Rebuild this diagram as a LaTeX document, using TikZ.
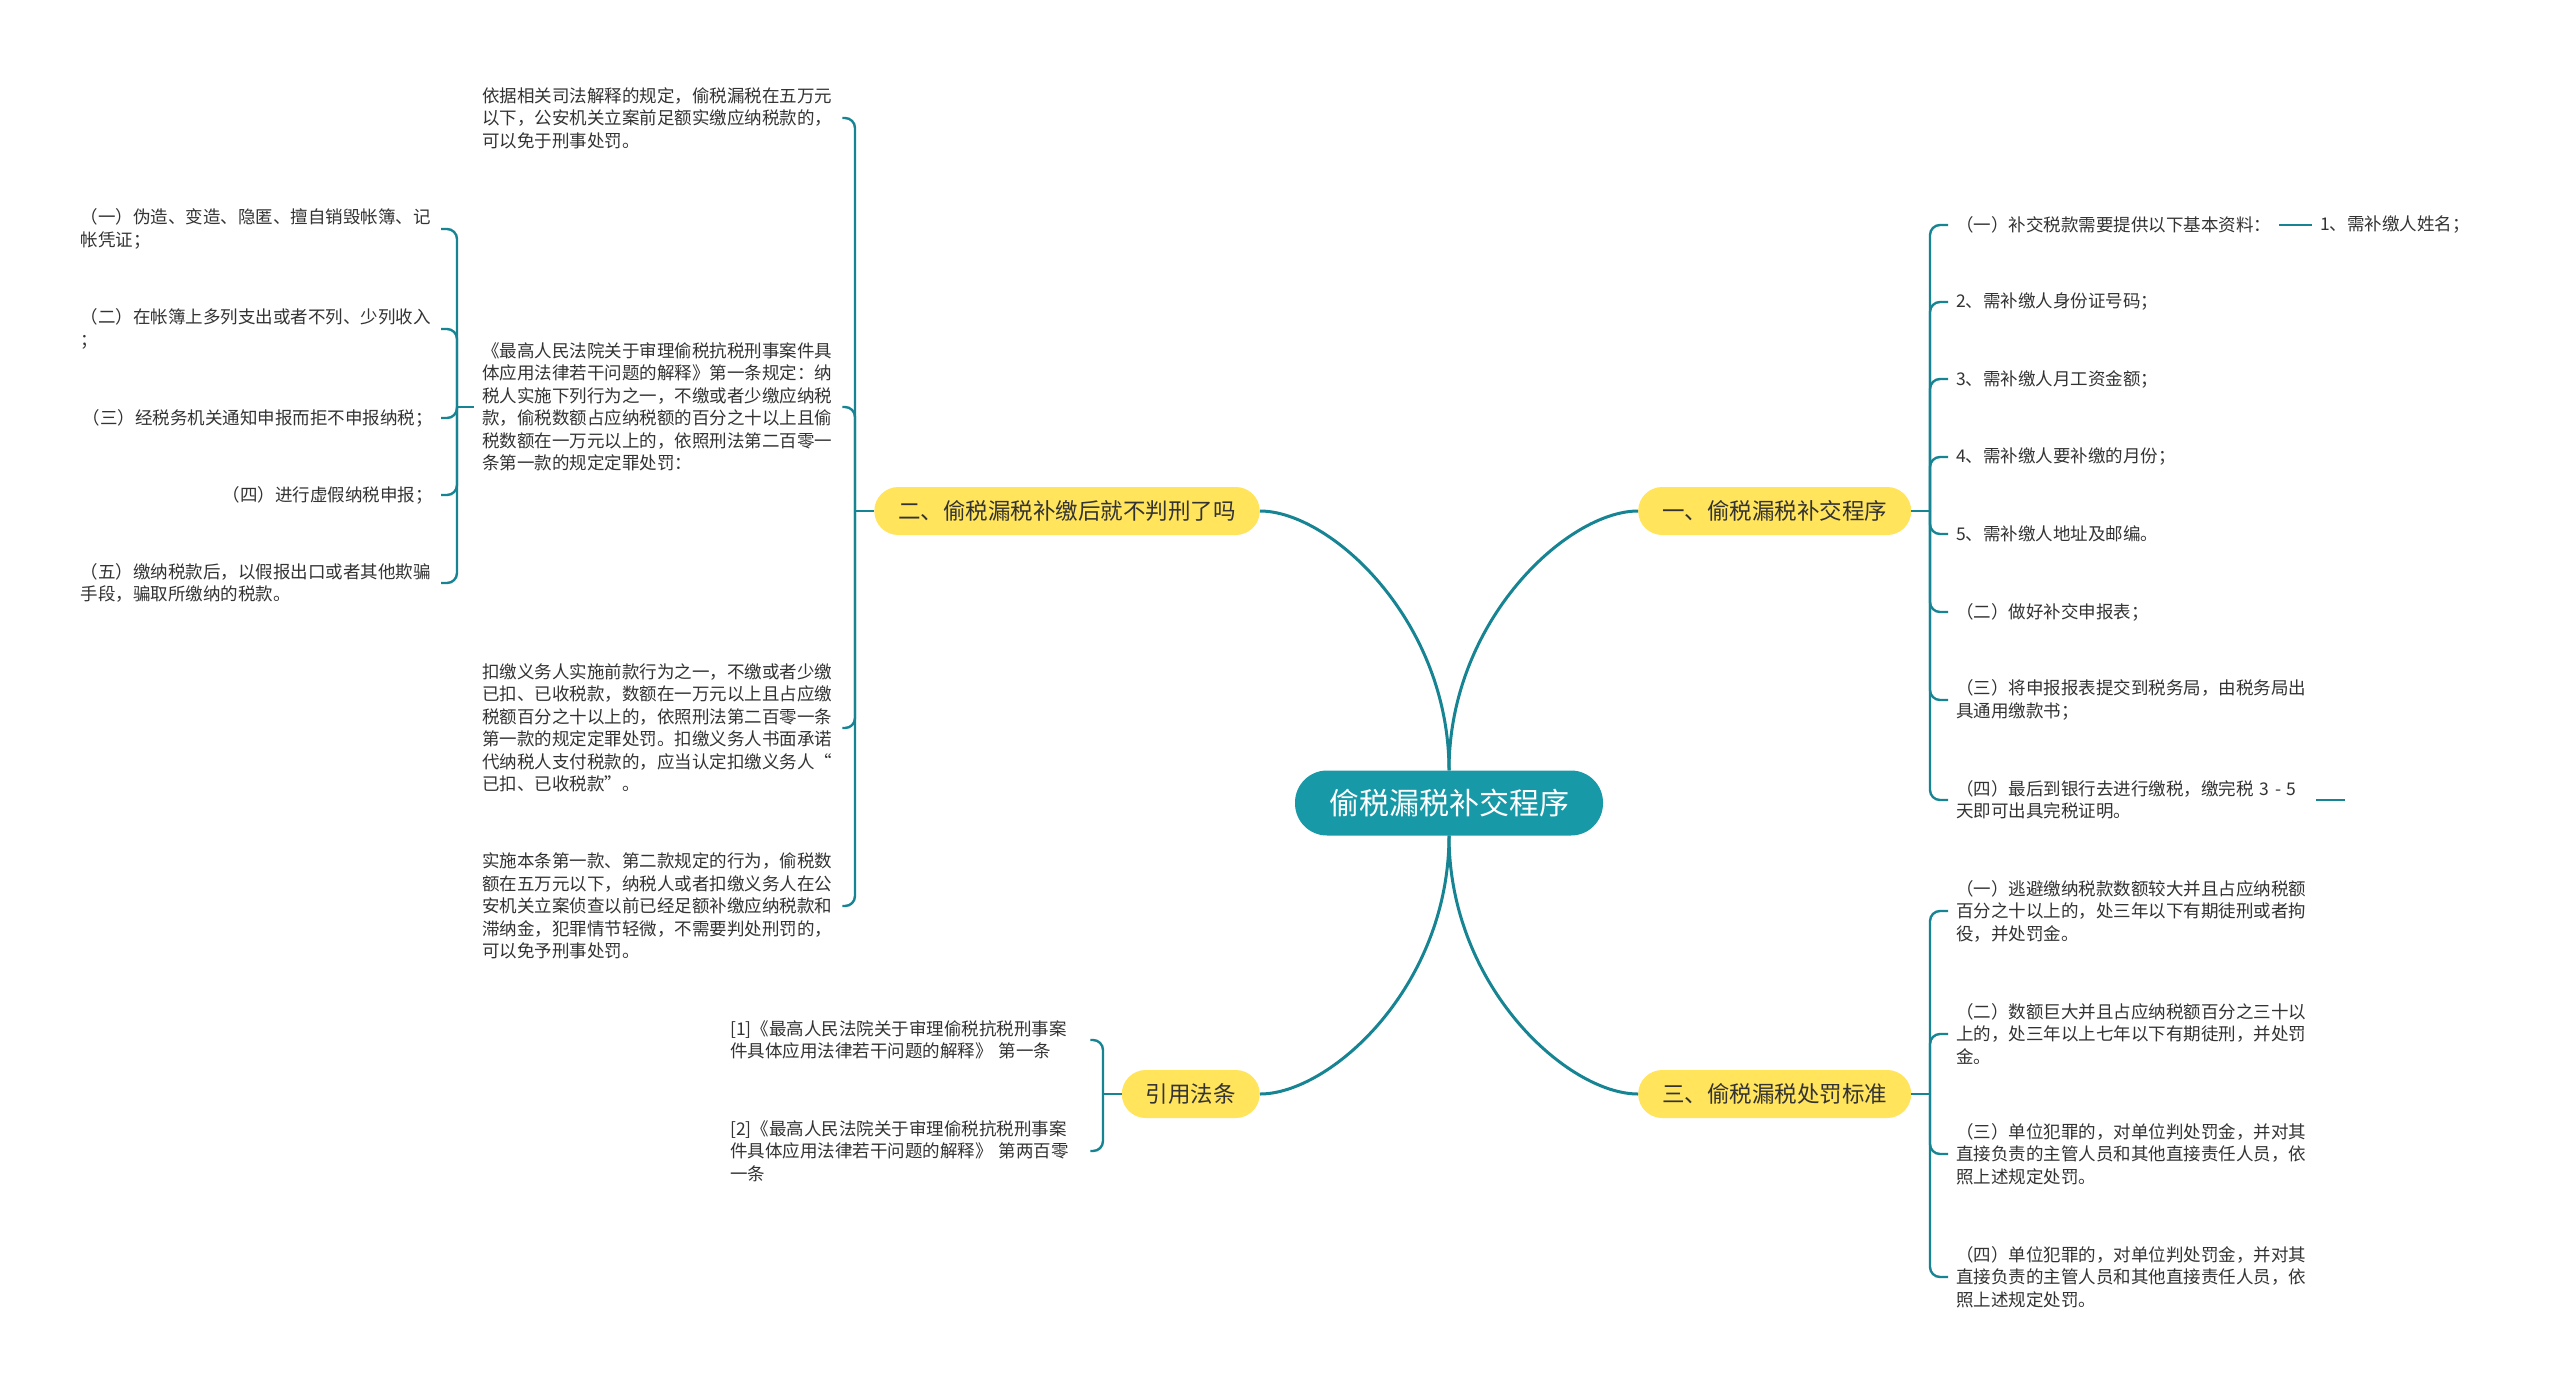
\documentclass[tikz,border=0pt]{standalone}
\usepackage{fontspec}
\newfontfamily\cjk{Noto Sans CJK SC}
\definecolor{mapline}{RGB}{22,132,146}
\definecolor{maproot}{RGB}{24,153,167}
\definecolor{mapyellow}{RGB}{255,228,92}
\definecolor{maptext}{RGB}{51,51,51}
\tikzset{
  root/.style={fill=maproot,text=white,font=\cjk\fontsize{30}{36}\selectfont,
    rounded corners=32pt,minimum height=65pt,inner xsep=34pt},
  topic/.style={fill=mapyellow,text=maptext,font=\cjk\fontsize{22.5}{27}\selectfont,
    rounded corners=24pt,minimum height=48pt,inner xsep=24pt},
  leaf/.style={text=maptext,font=\cjk\fontsize{17.5}{22.5}\selectfont,
    inner xsep=8pt,inner ysep=4pt,align=left},
  wide/.style={leaf,text width=352pt},
  trunk/.style={draw=mapline,line width=3pt},
  twig/.style={draw=mapline,line width=2.4pt,rounded corners=10pt}
}

\begin{document}
\begin{tikzpicture}[x=1pt,y=-1pt]
  \fill[white] (0,0) rectangle (2560,1395);
  \useasboundingbox (0,0) rectangle (2560,1395);

  \node[root] (root) at (1449,803) {偷税漏税补交程序};
  \node[topic,anchor=east] (judge) at (1260,511) {二、偷税漏税补缴后就不判刑了吗};
  \node[topic,anchor=west] (pay) at (1638,511) {一、偷税漏税补交程序};
  \node[topic,anchor=west] (fine) at (1638,1094) {三、偷税漏税处罚标准};
  \node[topic,anchor=east] (cite) at (1260,1094) {引用法条};

  \draw[trunk] (root.north) .. controls (1449,620) and (1330,511) .. (judge.east);
  \draw[trunk] (root.north) .. controls (1449,620) and (1568,511) .. (pay.west);
  \draw[trunk] (root.south) .. controls (1449,987) and (1330,1094) .. (cite.east);
  \draw[trunk] (root.south) .. controls (1449,987) and (1568,1094) .. (fine.west);

  % 二
  \coordinate (judgeb) at (855,511);
  \draw[twig] (judge.west) -- (judgeb);
  \foreach \t/\y [count=\i] in {
    {依据相关司法解释的规定，偷税漏税在五万元\\以下，公安机关立案前足额实缴应纳税款的，\\可以免于刑事处罚。}/118,
    {《最高人民法院关于审理偷税抗税刑事案件具\\体应用法律若干问题的解释》第一条规定：纳\\税人实施下列行为之一，不缴或者少缴应纳税\\款，偷税数额占应纳税额的百分之十以上且偷\\税数额在一万元以上的，依照刑法第二百零一\\条第一款的规定定罪处罚：}/407,
    {扣缴义务人实施前款行为之一，不缴或者少缴\\已扣、已收税款，数额在一万元以上且占应缴\\税额百分之十以上的，依照刑法第二百零一条\\第一款的规定定罪处罚。扣缴义务人书面承诺\\代纳税人支付税款的，应当认定扣缴义务人“\\已扣、已收税款”。}/728,
    {实施本条第一款、第二款规定的行为，偷税数\\额在五万元以下，纳税人或者扣缴义务人在公\\安机关立案侦查以前已经足额补缴应纳税款和\\滞纳金，犯罪情节轻微，不需要判处刑罚的，\\可以免予刑事处罚。}/906}{
    \node[wide,anchor=west] (judge\i) at (474,\y) {\t};
    \draw[twig] (judgeb) |- (judge\i.east);
  }

  \coordinate (actb) at (457,407);
  \draw[twig] (judge2.west) -- (actb);
  \foreach \s/\t/\y [count=\i] in {
    wide/{（一）伪造、变造、隐匿、擅自销毁帐簿、记\\帐凭证；}/229,
    wide/{（二）在帐簿上多列支出或者不列、少列收入\\；}/329,
    leaf/{（三）经税务机关通知申报而拒不申报纳税；}/418,
    leaf/{（四）进行虚假纳税申报；}/495,
    wide/{（五）缴纳税款后，以假报出口或者其他欺骗\\手段，骗取所缴纳的税款。}/583}{
    \node[\s,anchor=east] (act\i) at (441,\y) {\t};
    \draw[twig] (actb) |- (act\i.east);
  }

  % 一
  \coordinate (payb) at (1930,511);
  \draw[twig] (pay.east) -- (payb);
  \foreach \s/\t/\y [count=\i] in {
    leaf/{（一）补交税款需要提供以下基本资料：}/225,
    leaf/{2、需补缴人身份证号码；}/302,
    leaf/{3、需补缴人月工资金额；}/379,
    leaf/{4、需补缴人要补缴的月份；}/457,
    leaf/{5、需补缴人地址及邮编。}/534,
    leaf/{（二）做好补交申报表；}/612,
    wide/{（三）将申报报表提交到税务局，由税务局出\\具通用缴款书；}/700,
    wide/{（四）最后到银行去进行缴税，缴完税 3 - 5\\天即可出具完税证明。}/800}{
    \node[\s,anchor=west] (pay\i) at (1948,\y) {\t};
    \draw[twig] (payb) |- (pay\i.west);
  }
  \node[leaf,anchor=west] (pay1a) at (2312,225) {1、需补缴人姓名；};
  \draw[twig] (pay1.east) -- (pay1a.west);
  \coordinate (pay8x) at (2345,800);
  \draw[twig] (pay8.east) -- (pay8x);

  % 三
  \coordinate (fineb) at (1930,1094);
  \draw[twig] (fine.east) -- (fineb);
  \foreach \t/\y [count=\i] in {
    {（一）逃避缴纳税款数额较大并且占应纳税额\\百分之十以上的，处三年以下有期徒刑或者拘\\役，并处罚金。}/911,
    {（二）数额巨大并且占应纳税额百分之三十以\\上的，处三年以上七年以下有期徒刑，并处罚\\金。}/1034,
    {（三）单位犯罪的，对单位判处罚金，并对其\\直接负责的主管人员和其他直接责任人员，依\\照上述规定处罚。}/1154,
    {（四）单位犯罪的，对单位判处罚金，并对其\\直接负责的主管人员和其他直接责任人员，依\\照上述规定处罚。}/1277}{
    \node[wide,anchor=west] (fine\i) at (1948,\y) {\t};
    \draw[twig] (fineb) |- (fine\i.west);
  }

  % 引用法条
  \coordinate (citeb) at (1103,1094);
  \draw[twig] (cite.west) -- (citeb);
  \foreach \t/\y [count=\i] in {
    {[1]《最高人民法院关于审理偷税抗税刑事案\\件具体应用法律若干问题的解释》 第一条}/1040,
    {[2]《最高人民法院关于审理偷税抗税刑事案\\件具体应用法律若干问题的解释》 第两百零\\一条}/1151}{
    \node[wide,anchor=west] (cite\i) at (722,\y) {\t};
    \draw[twig] (citeb) |- (cite\i.east);
  }
\end{tikzpicture}
\end{document}
